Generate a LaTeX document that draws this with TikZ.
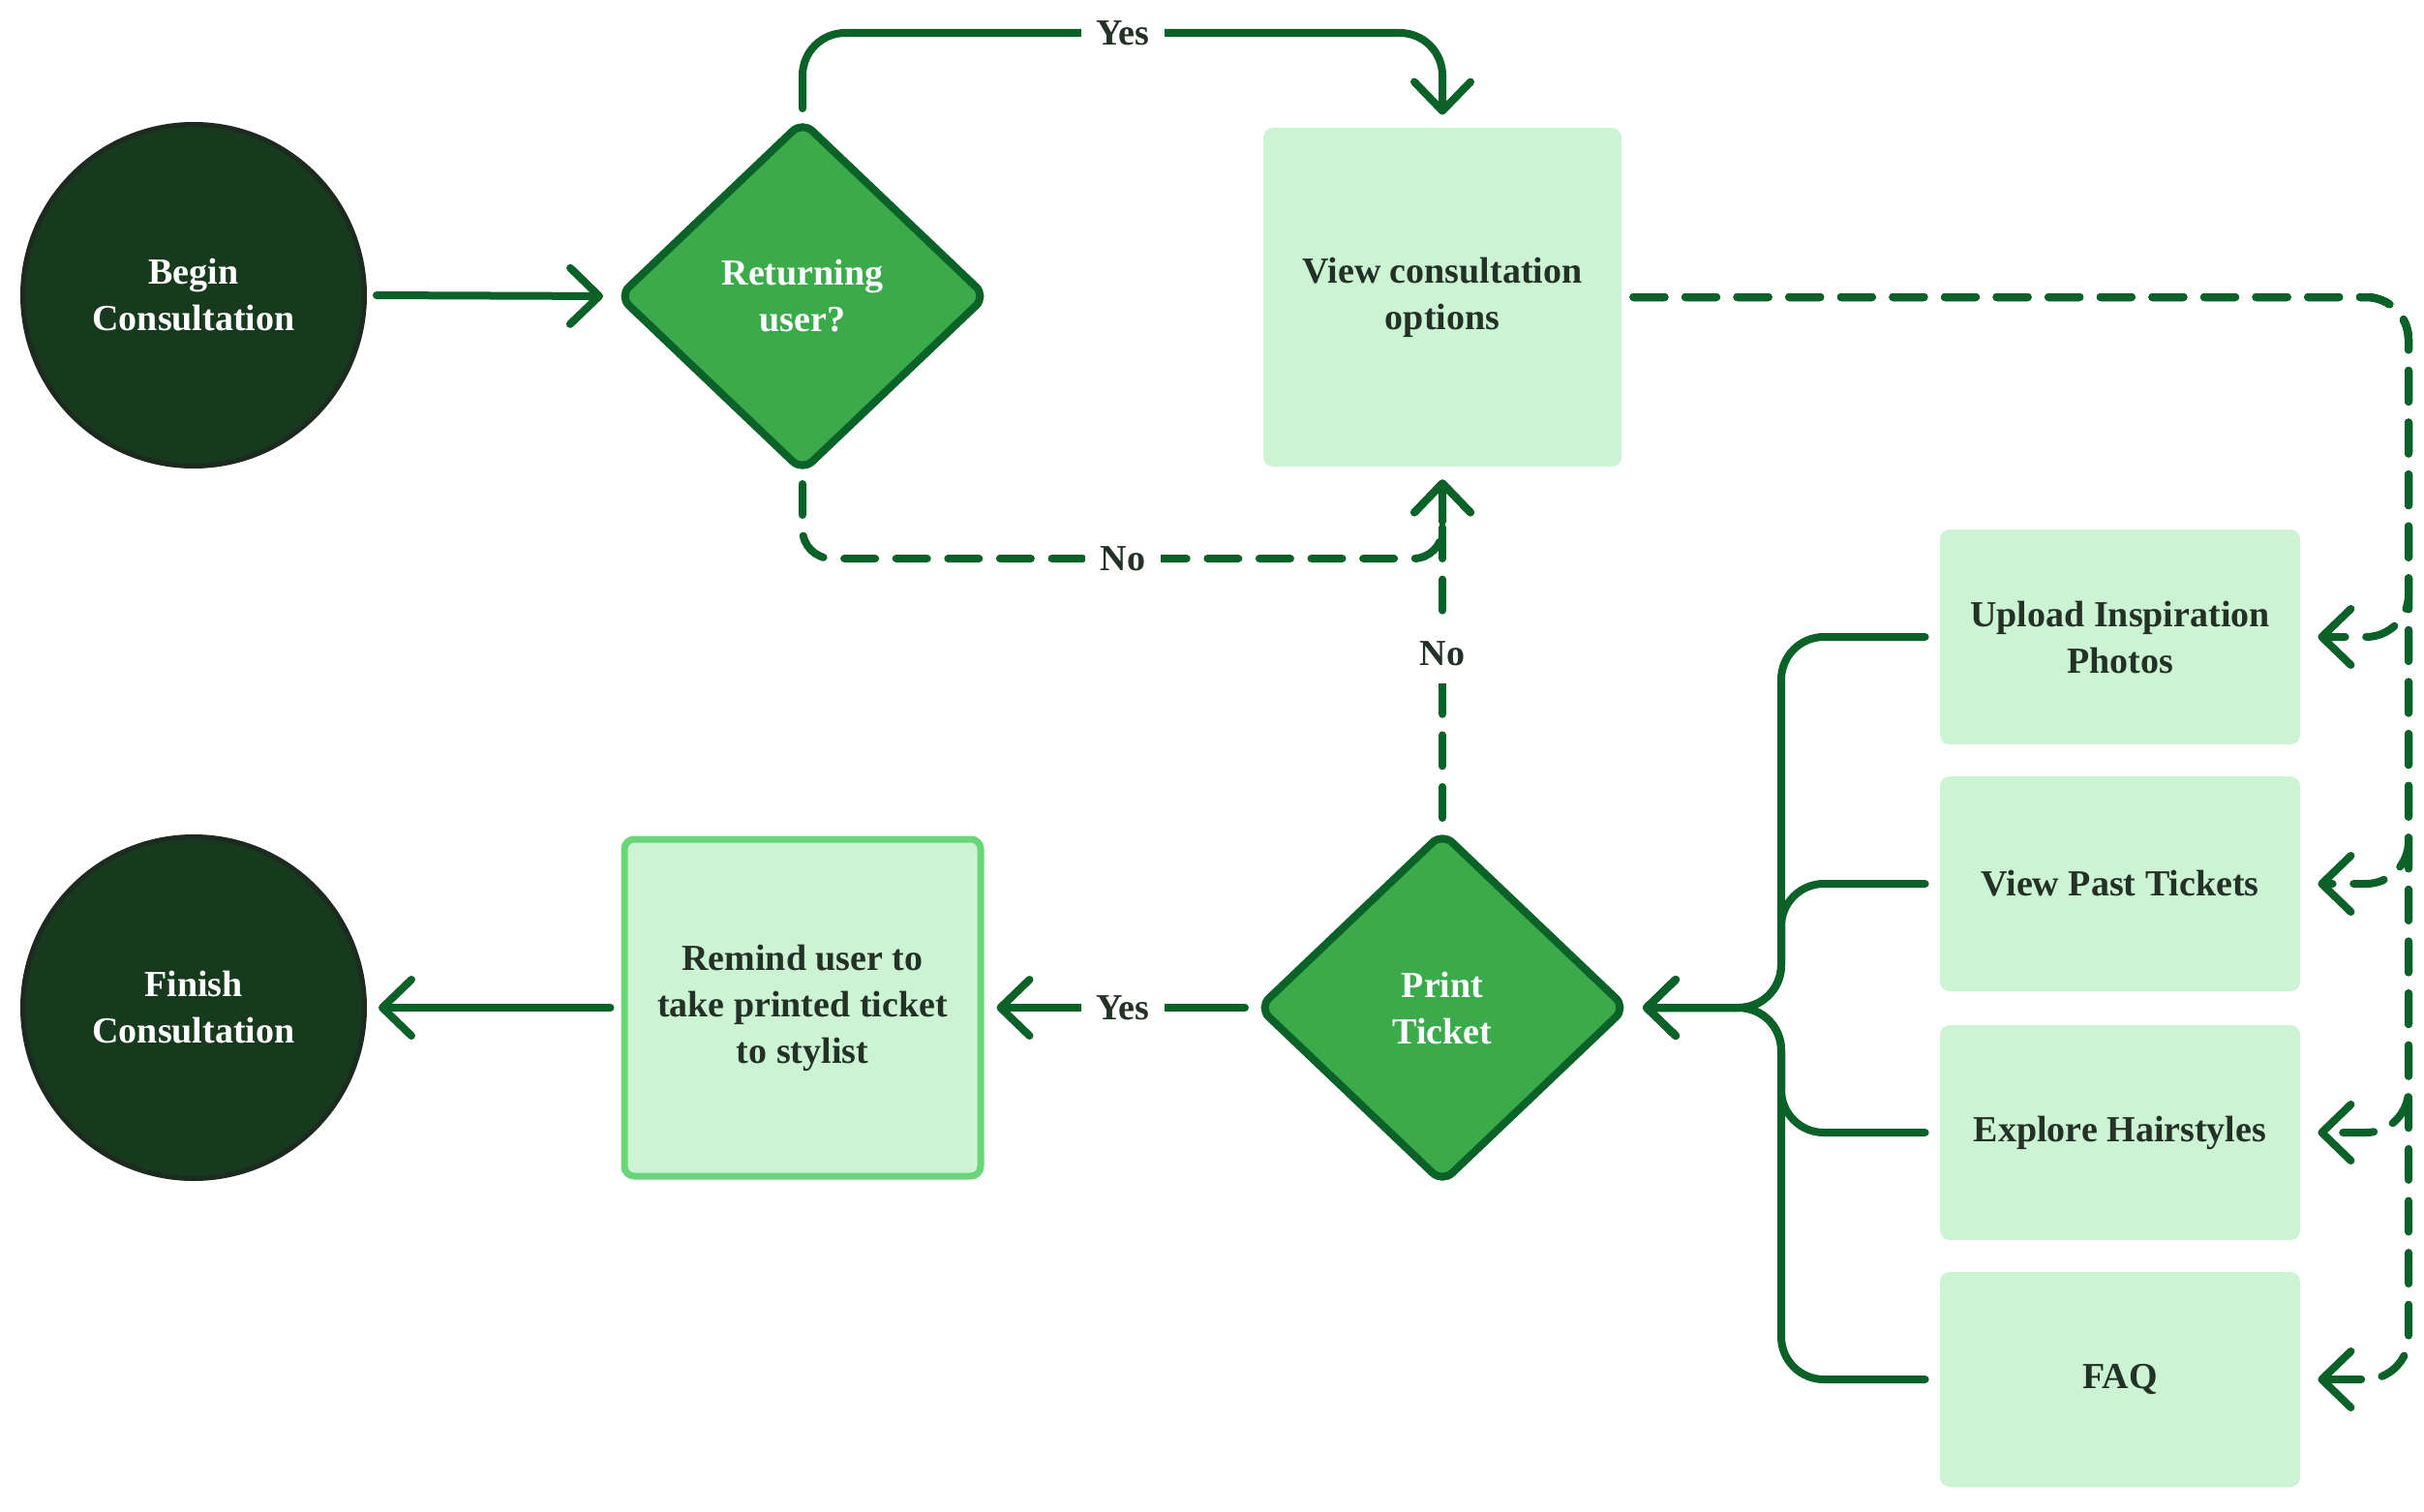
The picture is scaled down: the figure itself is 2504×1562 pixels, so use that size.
\documentclass[tikz,border=0pt]{standalone}
\usepackage{fontspec}
\setmainfont{Liberation Serif}
\usetikzlibrary{shapes.geometric,arrows.meta}
\definecolor{lineg}{RGB}{11,98,40}
\definecolor{diafill}{RGB}{58,170,74}
\definecolor{darkfill}{RGB}{23,58,30}
\definecolor{darkborder}{RGB}{28,42,31}
\definecolor{boxfill}{RGB}{204,243,212}
\definecolor{remborder}{RGB}{106,214,122}
\definecolor{txt}{RGB}{36,49,39}
\begin{document}
\begin{tikzpicture}[x=0.5pt,y=-0.5pt,
  font=\fontsize{19}{24}\selectfont\bfseries,
  term/.style={circle,fill=darkfill,draw=darkborder,line width=2.5pt,minimum size=176.5pt,inner sep=0pt,text=white,align=center},
  dec/.style={diamond,fill=diafill,draw=lineg,line width=4pt,minimum width=191pt,minimum height=182pt,inner sep=0pt,rounded corners=7pt,text=white,align=center},
  opt/.style={rectangle,fill=boxfill,rounded corners=5pt,minimum width=186pt,minimum height=111pt,inner sep=0pt,text=txt,align=center},
  conn/.style={draw=lineg,line width=4pt,line cap=round,rounded corners=22pt,-{Straight Barb[length=15pt,width=29pt,round]}},
  dconn/.style={conn,dash pattern=on 16pt off 10.8pt},
  lbl/.style={fill=white,text=txt,inner xsep=8pt,inner ysep=6pt}
]
\useasboundingbox (0,0) rectangle (2504,1562);
\node[term] (beg) at (200,305) {Begin\\Consultation};
\node[dec] (ret) at (829,306) {Returning\\user?};
\node[opt,minimum width=185pt,minimum height=175pt] (vco) at (1490,307) {View consultation\\options};
\node[opt] (up) at (2190,658) {Upload Inspiration\\Photos};
\node[opt] (vpt) at (2190,913) {View Past Tickets};
\node[opt] (exp) at (2190,1170) {Explore Hairstyles};
\node[opt] (faq) at (2190,1425) {FAQ};
\node[dec] (pt) at (1490,1041) {Print\\Ticket};
\node[opt,draw=remborder,line width=3.5pt,minimum width=184pt,minimum height=174pt] (rem) at (829,1041) {Remind user to\\take printed ticket\\to stylist};
\node[term] (fin) at (200,1041) {Finish\\Consultation};

\coordinate (ytop) at (0,34);
\coordinate (ybot) at (0,577);
\coordinate (xr) at (2488,0);
\coordinate (xt) at (1840,0);

% solid connectors
\draw[conn,shorten <=5pt,shorten >=5.5pt] (beg.east) -- (ret.west);
\draw[conn,shorten <=4pt,shorten >=6.5pt] (ret.north) -- (ret.north |- ytop) -- (vco.north |- ytop) -- (vco.north);
\foreach \b in {up,vpt,exp,faq}
  \draw[conn,shorten <=7.5pt,shorten >=6pt] (\b.west) -- (xt |- \b.west) -- (xt |- pt.east) -- (pt.east);
\draw[conn,shorten <=4.5pt,shorten >=6.5pt] (pt.west) -- (rem.east);
\draw[conn,shorten <=5.5pt,shorten >=6pt] (rem.west) -- (fin.east);

% dashed connectors
\draw[dconn,rounded corners=15pt,shorten <=4pt,shorten >=6.5pt] (ret.south) -- (ret.south |- ybot) -- (vco.south |- ybot) -- (vco.south);
\draw[dconn,shorten <=5pt,shorten >=6.5pt] (pt.north) -- (vco.south);
\foreach \b in {up,vpt,exp,faq}
  \draw[dconn,shorten <=6pt,shorten >=9pt] (vco.east) -- (vco.east -| xr) -- (xr |- \b.east) -- (\b.east);

% labels
\node[lbl] (yes1) at (1160,34) {Yes};
\node[lbl] (no1) at (1160,577) {No};
\node[lbl,inner ysep=9pt] (no2) at (1490,675) {No};
\node[lbl] (yes2) at (1160,1041) {Yes};
\end{tikzpicture}
\end{document}
